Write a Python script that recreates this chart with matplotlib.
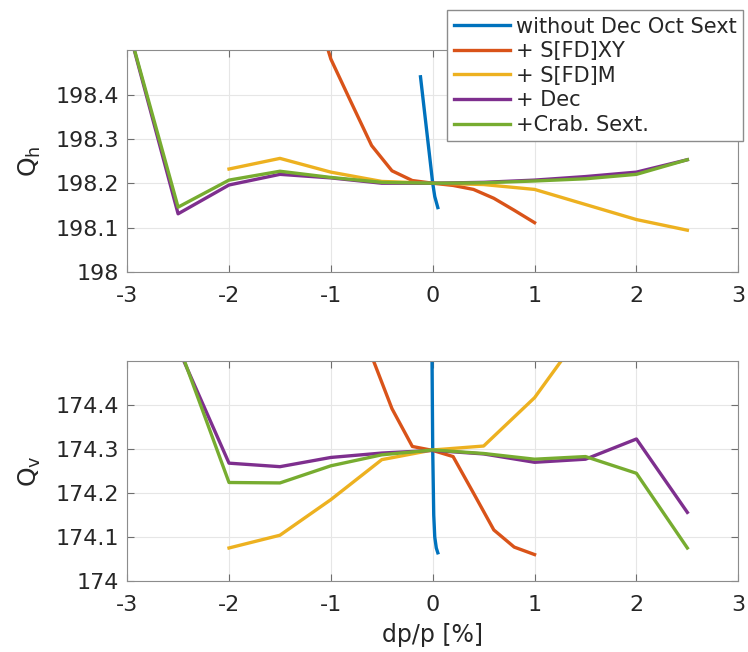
import matplotlib.pyplot as plt
import numpy as np

plt.rcParams['font.family'] = ['DejaVu Sans']
plt.rcParams['axes.unicode_minus'] = False

labels = ['without Dec Oct Sext', '+ S[FD]XY', '+ S[FD]M', '+ Dec', '+Crab. Sext.']
colors = ['#0072BD', '#D95319', '#EDB120', '#7E2F8E', '#77AC30']

# horizontal tune Q_h vs dp/p [%]
qh_dp = [
    [-0.12, -0.1, -0.05, 0.0, 0.02, 0.05],
    [-1.2, -1.0, -0.8, -0.6, -0.4, -0.2, 0.0, 0.2, 0.4, 0.6, 0.8, 1.0],
    [-2.0, -1.5, -1.0, -0.5, 0.0, 0.5, 1.0, 1.5, 2.0, 2.5],
    [-3.0, -2.5, -2.0, -1.5, -1.0, -0.5, 0.0, 0.5, 1.0, 1.5, 2.0, 2.5],
    [-3.0, -2.5, -2.0, -1.5, -1.0, -0.5, 0.0, 0.5, 1.0, 1.5, 2.0, 2.5],
]
qh = [
    [198.44, 198.40, 198.30, 198.20, 198.17, 198.145],
    [198.63, 198.48, 198.382, 198.285, 198.228, 198.206, 198.200, 198.195, 198.186, 198.166, 198.139, 198.111],
    [198.232, 198.256, 198.225, 198.204, 198.200, 198.197, 198.186, 198.152, 198.118, 198.094],
    [198.56, 198.131, 198.196, 198.220, 198.212, 198.200, 198.200, 198.202, 198.207, 198.215, 198.225, 198.253],
    [198.56, 198.146, 198.207, 198.227, 198.213, 198.202, 198.200, 198.201, 198.205, 198.210, 198.220, 198.253],
]

# vertical tune Q_v vs dp/p [%]
qv_dp = [
    [-0.01, 0.0, 0.01, 0.02, 0.035, 0.05],
    [-1.0, -0.8, -0.6, -0.4, -0.2, 0.0, 0.2, 0.4, 0.6, 0.8, 1.0],
    [-2.0, -1.5, -1.0, -0.5, 0.0, 0.5, 1.0, 1.5],
    [-3.0, -2.5, -2.0, -1.5, -1.0, -0.5, 0.0, 0.5, 1.0, 1.5, 2.0, 2.5],
    [-3.0, -2.5, -2.0, -1.5, -1.0, -0.5, 0.0, 0.5, 1.0, 1.5, 2.0, 2.5],
]
qv = [
    [174.60, 174.298, 174.15, 174.10, 174.075, 174.064],
    [174.90, 174.70, 174.512, 174.392, 174.306, 174.297, 174.283, 174.200, 174.116, 174.077, 174.060],
    [174.075, 174.104, 174.185, 174.276, 174.298, 174.307, 174.417, 174.577],
    [174.90, 174.53, 174.268, 174.260, 174.281, 174.291, 174.297, 174.289, 174.270, 174.277, 174.323, 174.156],
    [174.90, 174.54, 174.224, 174.223, 174.262, 174.287, 174.298, 174.290, 174.277, 174.283, 174.245, 174.075],
]

fig = plt.figure(figsize=(7.48, 6.52), dpi=100)
ax1 = fig.add_axes([0.170, 0.583, 0.817, 0.340])
ax2 = fig.add_axes([0.170, 0.109, 0.817, 0.337])

edge = '#262626'
for ax, xs, ys, ylim, lab in [(ax1, qh_dp, qh, (198, 198.5), 'Q$_\\mathregular{h}$'),
                              (ax2, qv_dp, qv, (174, 174.5), 'Q$_\\mathregular{v}$')]:
    for x, y, c, l in zip(xs, ys, colors, labels):
        ax.plot(x, y, color=c, lw=2.4, label=l)
    ax.set_xlim(-3, 3)
    ax.set_ylim(*ylim)
    ax.set_xticks(np.arange(-3, 4, 1))
    yt = np.round(np.arange(ylim[0], ylim[0] + 0.45, 0.1), 1)
    ax.set_yticks(yt)
    ax.set_yticklabels(['%g' % v for v in yt])
    ax.grid(True, color='#e6e6e6', lw=0.8)
    ax.set_axisbelow(True)
    ax.tick_params(direction='in', top=True, right=True, labelsize=16,
                   colors='#6e6e6e', labelcolor='#262626', length=5)
    ax.tick_params(axis='x', pad=10)
    ax.tick_params(axis='y', pad=6)
    for s in ax.spines.values():
        s.set_color('#8c8c8c')
    ax.set_ylabel(lab, fontsize=18, color=edge, labelpad=9)

ax2.set_xlabel('dp/p [%]', fontsize=17, color=edge, labelpad=6)

leg = ax1.legend(loc='upper right', bbox_to_anchor=(1.008, 1.18), fontsize=15,
                 handlelength=2.7, handletextpad=0.3, borderaxespad=0, labelspacing=0.22,
                 fancybox=False, framealpha=1, edgecolor='#8c8c8c', borderpad=0.3)
leg.get_frame().set_linewidth(1.0)
for t in leg.get_texts():
    t.set_color(edge)

fig.savefig('out.png', dpi=100)
